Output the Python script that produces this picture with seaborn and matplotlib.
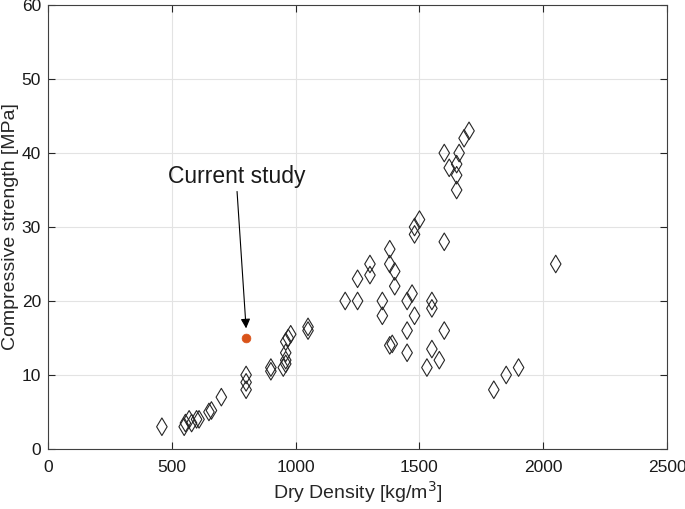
import numpy as np
import pandas as pd
import matplotlib
matplotlib.use("Agg")
import matplotlib.pyplot as plt
import seaborn as sns

# literature data
density = [460, 550, 555, 570, 580, 600, 610, 650, 660, 700,
           800, 800, 800, 900, 900, 950, 960, 960, 960, 960, 970, 980, 1050, 1050,
           1200, 1250, 1250, 1300, 1300, 1350, 1350, 1380, 1380, 1380, 1390,
           1400, 1400, 1450, 1450, 1450, 1470, 1480, 1480, 1480, 1500, 1530,
           1550, 1550, 1550, 1580, 1600, 1600, 1600, 1620, 1650, 1650, 1650,
           1660, 1680, 1700, 1800, 1850, 1900, 2050]
strength = [3, 3, 3.5, 4, 3.5, 4, 4, 5, 5.2, 7,
            8, 9, 10, 10.5, 11, 11, 11.5, 12, 13, 14.5, 15, 15.5, 16, 16.5,
            20, 20, 23, 23.5, 25, 18, 20, 27, 25, 14, 14.2,
            24, 22, 20, 16, 13, 21, 18, 29, 30, 31, 11,
            20, 19, 13.5, 12, 16, 28, 40, 38, 38.5, 37, 35,
            40, 42, 43, 8, 10, 11, 25]

study_density = [800]
study_strength = [15]

lit = pd.DataFrame({"density": density, "strength": strength})
cur = pd.DataFrame({"density": study_density, "strength": study_strength})

sns.set_style("whitegrid")
plt.rcParams["font.family"] = ["Liberation Sans", "DejaVu Sans"]

fig = plt.figure(figsize=(6.85, 5.09), dpi=100)
ax = fig.add_axes([0.070, 0.118, 0.904, 0.872])

sns.scatterplot(data=lit, x="density", y="strength", marker="d", s=80,
                facecolors="none", edgecolor="#262626", linewidth=0.8, ax=ax)
sns.scatterplot(data=cur, x="density", y="strength", marker="o", s=40,
                color="#D95319", edgecolor="#D95319", ax=ax)

ax.annotate("Current study", xy=(800, 16.3), xytext=(485, 36.8),
            fontsize=16.5, va="center", ha="left", color="#1a1a1a",
            arrowprops=dict(arrowstyle="-|>", color="black", lw=0.8,
                            mutation_scale=14, shrinkA=0, shrinkB=0,
                            relpos=(0.5, 0)))

ax.set_xlim(0, 2500)
ax.set_ylim(0, 60)
ax.set_xticks(np.arange(0, 2501, 500))
ax.set_yticks(np.arange(0, 61, 10))
ax.set_xlabel("Dry Density [kg/m$^3$]", fontsize=14, labelpad=3, color="#262626")
ax.set_ylabel("Compressive strength [MPa]", fontsize=14, labelpad=2, color="#262626")
ax.tick_params(axis="both", labelsize=12.5, direction="in", length=5,
               color="#262626", labelcolor="#1a1a1a", pad=8,
               top=True, right=True, bottom=True, left=True)
ax.tick_params(axis="y", pad=5)
ax.grid(True, color="#e3e3e3", linewidth=0.8)
for sp in ax.spines.values():
    sp.set_visible(True)
    sp.set_color("#404040")
    sp.set_linewidth(0.8)

fig.savefig("out.png", dpi=100)
